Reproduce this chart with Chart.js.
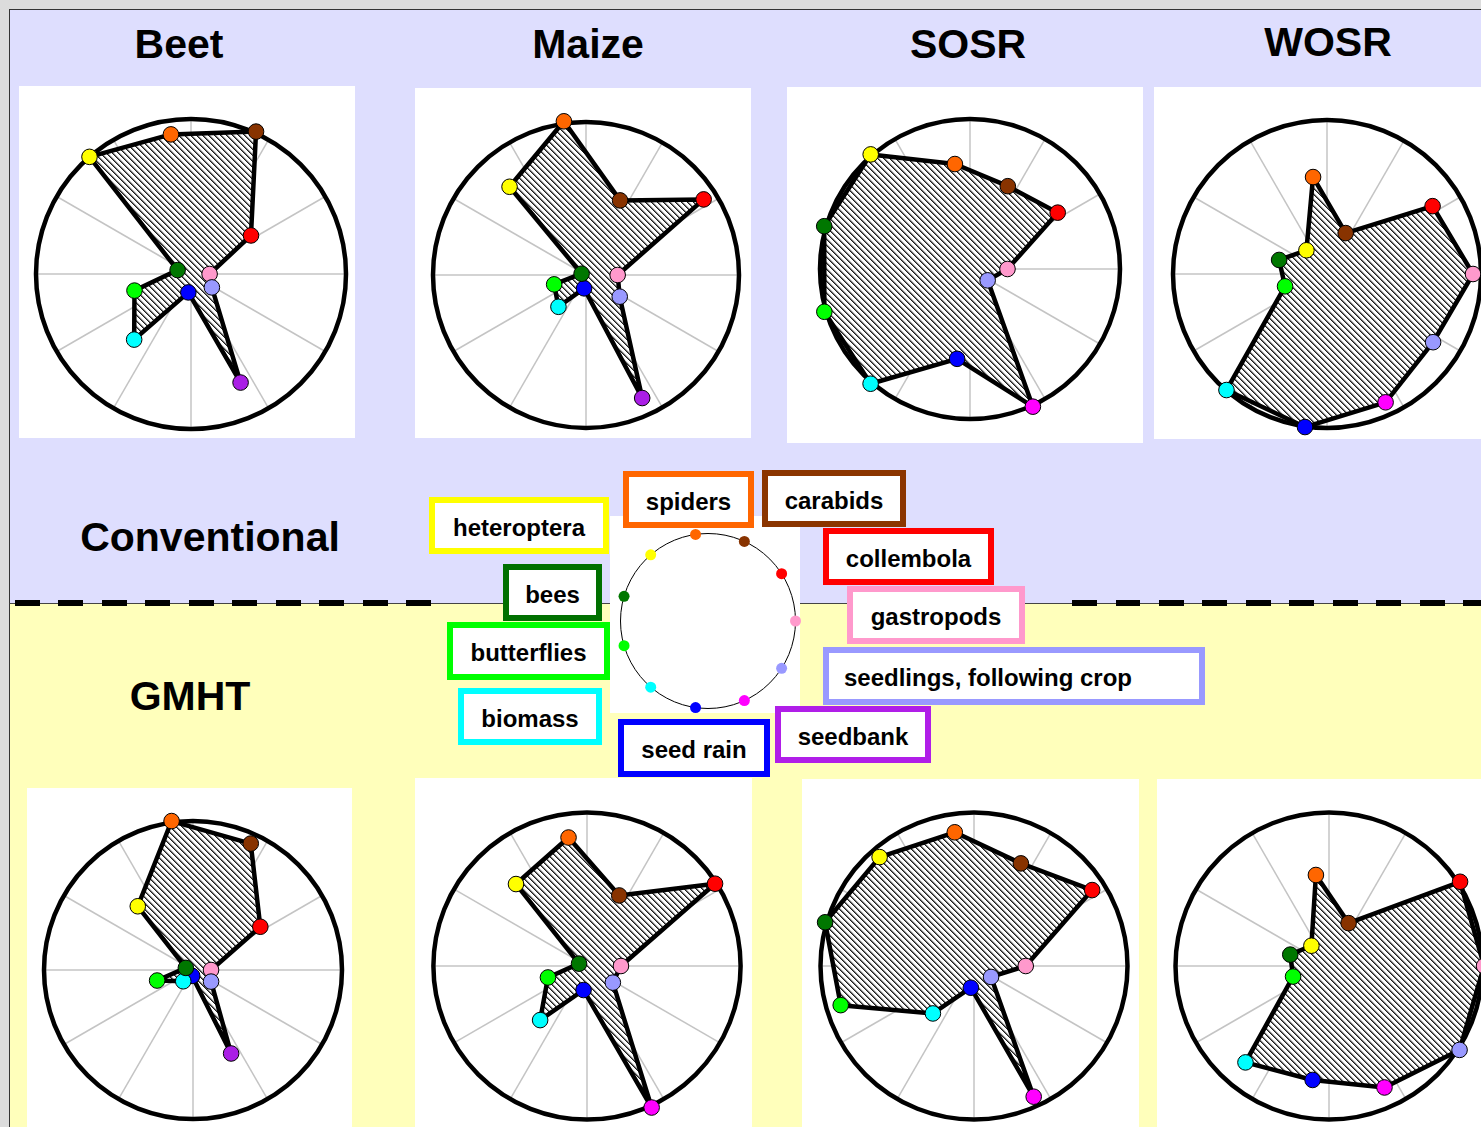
<!DOCTYPE html>
<html>
<head>
<meta charset="utf-8">
<title>Conventional vs GMHT</title>
<script src="https://cdn.jsdelivr.net/npm/chart.js@4.4.0/dist/chart.umd.min.js"></script>
<style>
  html, body { margin: 0; padding: 0; }
  body {
    width: 1481px; height: 1127px; overflow: hidden; position: relative;
    background: #dcdcdc;
    font-family: "Liberation Sans", Arial, Helvetica, sans-serif; font-weight: bold; color: #000;
  }
  .abs { position: absolute; }
  #conv { left: 9px; top: 9px; width: 1472px; height: 594px; background: #dedefe;
          border-left: 1px solid #333; border-top: 1px solid #333; box-sizing: border-box; }
  #gmht { left: 9px; top: 603px; width: 1472px; height: 524px; background: #ffffbb;
          border-left: 1px solid #333; border-top: 1px solid #444; box-sizing: border-box; }
  .dash { top: 600px; height: 6px;
          background: repeating-linear-gradient(90deg, #000 0 24.7px, transparent 24.7px 43.5px); }
  .panel { background: #fff; }
  .title { font-size: 41px; line-height: 1; white-space: nowrap; transform: translate(-50%, -50%); }
  .key { box-sizing: border-box; border: 6px solid; background: #fff; font-size: 24px; line-height: 1;
         display: flex; align-items: center; justify-content: center; padding-top: 4px; white-space: nowrap; }
  .key.left { justify-content: flex-start; padding-left: 15px; }
  canvas { position: absolute; }
</style>
</head>
<body>
<div id="conv" class="abs"></div>
<div id="gmht" class="abs"></div>
<div class="abs dash" style="left:15px;width:417px"></div>
<div class="abs dash" style="left:1072px;width:409px"></div>

<!-- white panels behind each radar -->
<div class="abs panel" style="left:19px;top:86px;width:336px;height:352px"></div>
<div class="abs panel" style="left:415px;top:88px;width:336px;height:350px"></div>
<div class="abs panel" style="left:787px;top:87px;width:356px;height:356px"></div>
<div class="abs panel" style="left:1154px;top:87px;width:327px;height:352px"></div>
<div class="abs panel" style="left:27px;top:788px;width:325px;height:339px"></div>
<div class="abs panel" style="left:415px;top:778px;width:337px;height:349px"></div>
<div class="abs panel" style="left:802px;top:779px;width:337px;height:348px"></div>
<div class="abs panel" style="left:1157px;top:779px;width:324px;height:348px"></div>
<div class="abs panel" style="left:610px;top:516px;width:190px;height:197px"></div>

<div id="titles"></div>
<div id="keys"></div>

<canvas id="c-beet-conv"></canvas>
<canvas id="c-maize-conv"></canvas>
<canvas id="c-sosr-conv"></canvas>
<canvas id="c-wosr-conv"></canvas>
<canvas id="c-beet-gmht"></canvas>
<canvas id="c-maize-gmht"></canvas>
<canvas id="c-sosr-gmht"></canvas>
<canvas id="c-wosr-gmht"></canvas>
<canvas id="c-key"></canvas>

<script>
// ---- data -----------------------------------------------------------------
const CATEGORIES = ['spiders', 'carabids', 'collembola', 'gastropods',
  'seedlings, following crop', 'seedbank', 'seed rain', 'biomass',
  'butterflies', 'bees', 'heteroptera'];
const CROPS = ['Beet', 'Maize', 'SOSR', 'WOSR'];
const REGIMES = ['Conventional', 'GMHT'];

// relative score per category (100 = outer ring)
const beetConventional  = [91.0, 101.0, 46.0, 12.0, 16.0, 77.0, 12.0, 56.0, 38.0, 9.0, 100.0];
const maizeConventional = [101.5, 53.6, 91.4, 20.7, 26.2, 88.4, 8.8, 27.5, 21.7, 3.0, 76.3];
const sosrConventional  = [70.7, 60.7, 69.5, 25.0, 14.0, 100.9, 60.5, 101.2, 101.2, 101.3, 101.1];
const wosrConventional  = [63.6, 29.2, 81.5, 94.8, 81.9, 91.6, 100.4, 99.7, 28.4, 32.4, 20.4];
const beetGMHT  = [101.0, 93.3, 53.7, 12.1, 14.4, 61.6, 4.0, 10.0, 25.1, 5.0, 56.6];
const maizeGMHT = [84.5, 50.5, 99.1, 22.1, 20.0, 101.3, 15.8, 46.6, 26.5, 5.4, 70.6];
const sosrGMHT  = [88.0, 73.5, 91.5, 33.7, 13.2, 93.6, 14.3, 40.9, 90.5, 101.1, 93.9];
const wosrGMHT  = [59.9, 30.7, 101.5, 101.0, 101.1, 87.0, 75.0, 83.1, 24.4, 26.3, 17.5];
const KEY_VALUES = [100, 100, 100, 100, 100, 100, 100, 100, 100, 100, 100];

// ---- styles ----------------------------------------------------------------
const PURPLE = '#aa1ee6', MAGENTA = '#ff00ff';
function categoryColors(seedbank) {
  return ['#ff6600', '#883300', '#ff0000', '#ff99cc', '#9999ff', seedbank,
          '#0000ff', '#00ffff', '#00ff00', '#007700', '#ffff00'];
}
// gastropods sit due east; categories run clockwise
const START_ANGLE = 90 - 3 * 360 / CATEGORIES.length;

// ---- titles ----------------------------------------------------------------
const TITLE_POS = {
  Beet: [179, 44], Maize: [588, 44], SOSR: [968, 44], WOSR: [1328, 42],
  Conventional: [210, 537], GMHT: [190, 696]
};
const titles = document.getElementById('titles');
[...CROPS, ...REGIMES].forEach(t => {
  const d = document.createElement('div');
  d.className = 'abs title';
  d.textContent = t;
  d.style.left = TITLE_POS[t][0] + 'px';
  d.style.top = TITLE_POS[t][1] + 'px';
  titles.appendChild(d);
});

// ---- key boxes ---------------------------------------------------------------
const KEY_BOX = [ // left, top, width, height, border colour, align
  [623, 471, 131, 57, '#ff6600'],
  [762, 470, 144, 57, '#8b3500'],
  [823, 528, 171, 57, '#ff0000'],
  [847, 586, 178, 58, '#ff99cc'],
  [823, 647, 382, 58, '#9999ff', 'left'],
  [775, 706, 156, 57, '#b01ee8'],
  [618, 719, 152, 58, '#0000ff'],
  [458, 688, 144, 57, '#00ffff'],
  [447, 622, 163, 58, '#00ff00'],
  [503, 564, 99, 57, '#007000'],
  [429, 497, 180, 57, '#ffff00']
];
const keys = document.getElementById('keys');
CATEGORIES.forEach((name, i) => {
  const [l, t, w, h, col, align] = KEY_BOX[i];
  const d = document.createElement('div');
  d.className = 'abs key' + (align ? ' ' + align : '');
  Object.assign(d.style, { left: l + 'px', top: t + 'px', width: w + 'px', height: h + 'px', borderColor: col });
  d.textContent = name;
  keys.appendChild(d);
});

// ---- radar drawing -----------------------------------------------------------
function hatch(ctx) {
  const tile = document.createElement('canvas');
  tile.width = tile.height = 6;
  const g = tile.getContext('2d');
  const img = g.createImageData(6, 6);
  const shade = [30, 110, 210, 255, 255, 255];
  for (let y = 0; y < 6; y++) for (let x = 0; x < 6; x++) {
    const v = shade[((x - y) % 6 + 6) % 6], i = (y * 6 + x) * 4;
    img.data[i] = img.data[i + 1] = img.data[i + 2] = v;
    img.data[i + 3] = 255;
  }
  g.putImageData(img, 0, 0);
  return ctx.createPattern(tile, 'repeat');
}

// evenly spaced grey spokes under the ring
const spokes = {
  id: 'spokes',
  beforeDraw(chart, args, opts) {
    const s = chart.scales.r, ctx = chart.ctx;
    const len = s.getDistanceFromCenterForValue(opts.value);
    ctx.save();
    ctx.strokeStyle = opts.color;
    ctx.lineWidth = opts.width;
    for (let k = 0; k < opts.count; k++) {
      const a = k * 2 * Math.PI / opts.count - Math.PI / 2;
      ctx.beginPath();
      ctx.moveTo(s.xCenter, s.yCenter);
      ctx.lineTo(s.xCenter + len * Math.cos(a), s.yCenter + len * Math.sin(a));
      ctx.stroke();
    }
    ctx.restore();
  }
};

function placeCanvas(id, cx, cy, R, margin) {
  const D = Math.round(R + margin);
  const cv = document.getElementById(id);
  cv.width = cv.height = 2 * D;
  cv.style.width = cv.style.height = 2 * D + 'px';
  cv.style.left = Math.round(cx - D) + 'px';
  cv.style.top = Math.round(cy - D) + 'px';
  return { cv, D };
}

function scaleOptions(D, R, ring) {
  return {
    min: 0, max: 100 * D / R, startAngle: START_ANGLE,
    afterBuildTicks: s => { s.ticks = [{ value: 0 }, { value: 100 }]; },
    angleLines: { display: false },
    grid: { circular: true, color: '#000', lineWidth: ring },
    ticks: { display: false },
    pointLabels: { display: false }
  };
}

function radar(id, cx, cy, R, values, seedbankColor) {
  const { cv, D } = placeCanvas(id, cx, cy, R, 16);
  new Chart(cv, {
    type: 'radar',
    data: {
      labels: CATEGORIES,
      datasets: [{
        data: values,
        backgroundColor: hatch(cv.getContext('2d')),
        borderColor: '#000', borderWidth: 4.5, borderJoinStyle: 'round', fill: true, tension: 0,
        pointBackgroundColor: categoryColors(seedbankColor),
        pointBorderColor: '#000', pointBorderWidth: 1, pointRadius: 7.8,
        clip: false
      }]
    },
    options: {
      responsive: false, animation: false, events: [], devicePixelRatio: 1,
      layout: { padding: 0 },
      plugins: {
        legend: { display: false }, tooltip: { enabled: false },
        spokes: { count: 12, value: 100, color: '#c4c4c4', width: 1.5 }
      },
      scales: { r: scaleOptions(D, R, 4.5) }
    },
    plugins: [spokes]
  });
}

radar('c-beet-conv',  191.3, 274.3, 155,   beetConventional,  PURPLE);
radar('c-maize-conv', 586.3, 275.3, 153,   maizeConventional, PURPLE);
radar('c-sosr-conv',  969.5, 269.3, 150,   sosrConventional,  MAGENTA);
radar('c-wosr-conv', 1326.7, 274.0, 154,   wosrConventional,  MAGENTA);
radar('c-beet-gmht',  192.7, 969.7, 149,   beetGMHT,  PURPLE);
radar('c-maize-gmht', 587.3, 965.7, 153.6, maizeGMHT, MAGENTA);
radar('c-sosr-gmht',  974.3, 966.0, 153.5, sosrGMHT,  MAGENTA);
radar('c-wosr-gmht', 1329.3, 966.0, 153.5, wosrGMHT,  MAGENTA);

// key wheel: one dot per category on a thin ring
(function () {
  const R = 87.5;
  const { cv, D } = placeCanvas('c-key', 707.5, 620.8, R, 10);
  new Chart(cv, {
    type: 'radar',
    data: {
      labels: CATEGORIES,
      datasets: [{
        data: KEY_VALUES, showLine: false, fill: false, borderWidth: 0,
        pointBackgroundColor: categoryColors(MAGENTA), pointBorderWidth: 0, pointRadius: 5.5,
        clip: false
      }]
    },
    options: {
      responsive: false, animation: false, events: [], devicePixelRatio: 1,
      layout: { padding: 0 },
      plugins: { legend: { display: false }, tooltip: { enabled: false } },
      scales: { r: scaleOptions(D, R, 1) }
    }
  });
})();
</script>
</body>
</html>
